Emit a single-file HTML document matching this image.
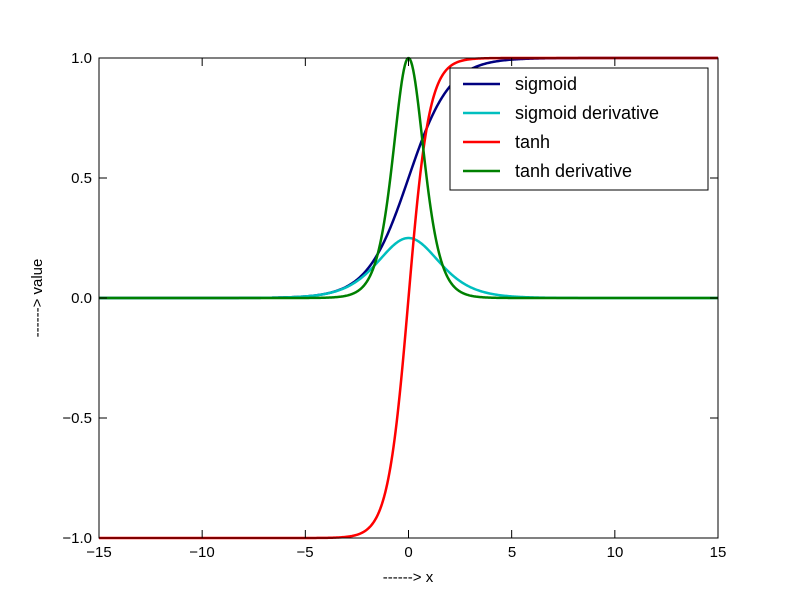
<!DOCTYPE html>
<html><head><meta charset="utf-8"><style>
html,body{margin:0;padding:0;background:#fff}
svg text{font-family:"Liberation Sans","DejaVu Sans",sans-serif}
</style></head><body>
<svg id="s" width="793" height="596" xmlns="http://www.w3.org/2000/svg">
<rect width="793" height="596" fill="#fff"/>
<g id="curves"></g>
<rect x="99" y="58" width="619" height="480" fill="none" stroke="#000" stroke-width="1"/>
<g stroke="#000" stroke-width="1" id="ticks"></g>
<g font-size="15" fill="#000" text-anchor="middle">
<text x="99" y="557">−15</text><text x="202" y="557">−10</text><text x="305" y="557">−5</text>
<text x="408.5" y="557">0</text><text x="512" y="557">5</text><text x="615" y="557">10</text><text x="718" y="557">15</text>
</g>
<g font-size="15" fill="#000" text-anchor="end">
<text x="92" y="63">1.0</text><text x="92" y="183">0.5</text><text x="92" y="303">0.0</text>
<text x="92" y="423">−0.5</text><text x="92" y="543">−1.0</text>
</g>
<text x="408" y="582" font-size="15" text-anchor="middle">------&gt; x</text>
<text x="42" y="298" font-size="15" text-anchor="middle" transform="rotate(-90 42 298)">------&gt; value</text>
<rect x="450" y="68" width="258" height="122" fill="#fff" stroke="#000" stroke-width="1"/>
<g stroke-width="2.5">
<line x1="463" y1="84" x2="500" y2="84" stroke="#000080"/>
<line x1="463" y1="113" x2="500" y2="113" stroke="#00bfbf"/>
<line x1="463" y1="142" x2="500" y2="142" stroke="#ff0000"/>
<line x1="463" y1="171" x2="500" y2="171" stroke="#008000"/>
</g>
<g font-size="18" fill="#000">
<text x="515" y="90">sigmoid</text>
<text x="515" y="119">sigmoid derivative</text>
<text x="515" y="148">tanh</text>
<text x="515" y="177">tanh derivative</text>
</g>
</svg>
<script>
var X=x=>408.5+x*619/30, Y=y=>298-y*240;
var fs=[[x=>1/(1+Math.exp(-x)),'#000080'],[x=>{var s=1/(1+Math.exp(-x));return s*(1-s)},'#00bfbf'],
[x=>Math.tanh(x),'#ff0000'],[x=>{var t=Math.tanh(x);return 1-t*t},'#008000']];
var g=document.getElementById('curves'),h='';
fs.forEach(f=>{var d='';for(var i=0;i<600;i++){var x=-15+30*i/599;d+=(i?'L':'M')+X(x).toFixed(2)+' '+Y(f[0](x)).toFixed(2);}
h+='<path d="'+d+'" fill="none" stroke="'+f[1]+'" stroke-width="2.5" stroke-linejoin="round"/>';});
g.innerHTML=h;
var t='';[-15,-10,-5,0,5,10,15].forEach(v=>{var x=X(v);t+='<line x1="'+x+'" y1="538" x2="'+x+'" y2="530"/><line x1="'+x+'" y1="58" x2="'+x+'" y2="66"/>';});
[-1,-0.5,0,0.5,1].forEach(v=>{var y=Y(v);t+='<line x1="99" y1="'+y+'" x2="107" y2="'+y+'"/><line x1="718" y1="'+y+'" x2="710" y2="'+y+'"/>';});
document.getElementById('ticks').innerHTML=t;
</script>
</body></html>
